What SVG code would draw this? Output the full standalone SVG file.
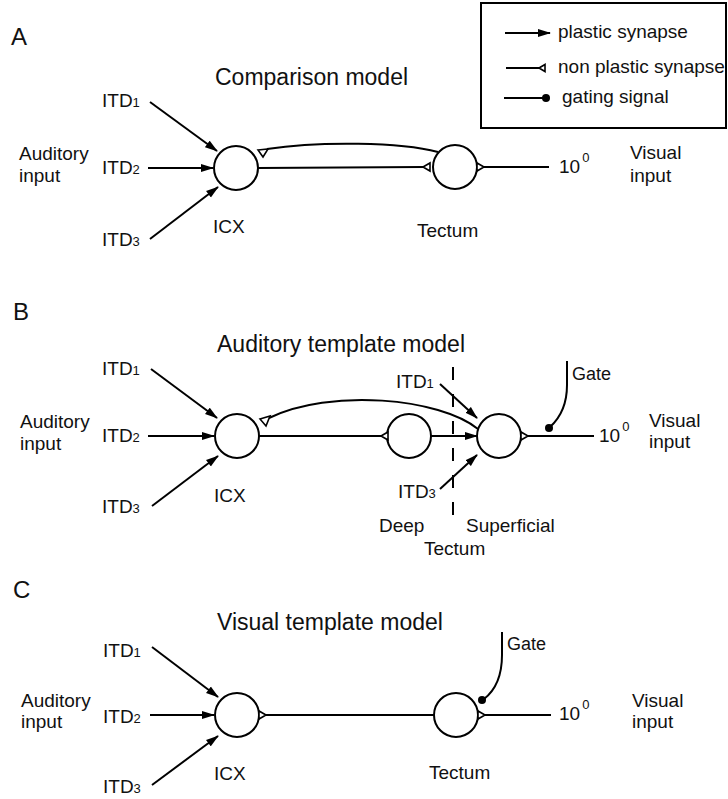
<svg xmlns="http://www.w3.org/2000/svg" width="728" height="799" viewBox="0 0 728 799">
<style>
text{font-family:"Liberation Sans",Arial,sans-serif;fill:#111;font-size:19px}
.t{font-size:23px}
.p{font-size:24px}
.s{font-size:13px}
.g{font-size:18px}
.n{fill:#fff;stroke:#000;stroke-width:2}
.l{fill:none;stroke:#000;stroke-width:2}
.a{fill:none;stroke:#000;stroke-width:2;marker-end:url(#ah)}
.tri{fill:#fff;stroke:#000;stroke-width:1.6;stroke-linejoin:miter}
</style>
<defs>
<marker id="ah" markerUnits="userSpaceOnUse" markerWidth="13" markerHeight="9" refX="12" refY="4.5" orient="auto" viewBox="0 0 13 9">
<path d="M0,0.5 L13,4.5 L0,8.5 z" fill="#000"/>
</marker>
</defs>
<rect fill="#fff" width="728" height="799"/>

<!-- Legend -->
<g id="legend">
<rect x="481" y="3" width="245" height="125" fill="none" stroke="#000" stroke-width="2"/>
<line x1="505" y1="33" x2="550" y2="33" class="a"/>
<text x="558" y="38">plastic synapse</text>
<line x1="506" y1="68" x2="539" y2="68" class="l"/>
<polygon class="tri" points="539,68 545,64.5 545,71.5"/>
<text x="558" y="73">non plastic synapse</text>
<line x1="504" y1="98" x2="545" y2="98" class="l"/>
<circle cx="546" cy="98" r="4" fill="#000"/>
<text x="562" y="103">gating signal</text>
</g>

<!-- Panel A -->
<g id="A-labels">
<text class="p" x="11" y="45">A</text>
<text class="t" x="215" y="85">Comparison model</text>
<text x="19" y="160">Auditory</text>
<text x="19" y="182">input</text>
<text x="102" y="107">ITD<tspan class="s">1</tspan></text>
<text x="102" y="174">ITD<tspan class="s">2</tspan></text>
<text x="102" y="246">ITD<tspan class="s">3</tspan></text>
<text x="630" y="159">Visual</text>
<text x="630" y="182">input</text>
<text x="559" y="173">10<tspan class="s" dx="2" dy="-11">0</tspan></text>
</g>
<g id="A-ICX">
<circle class="n" cx="236" cy="168" r="22"/>
<text x="213" y="233">ICX</text>
</g>
<g id="A-Tectum">
<circle class="n" cx="455" cy="167" r="22"/>
<text x="417" y="237">Tectum</text>
</g>
<g id="A-connectors">
<line class="a" x1="150" y1="102" x2="217" y2="151"/>
<line class="a" x1="148" y1="168" x2="213" y2="168"/>
<line class="a" x1="150" y1="239" x2="218" y2="187"/>
<line class="l" x1="258" y1="168" x2="423" y2="167"/>
<polygon class="tri" points="423,167 430,163 430,171"/>
<path class="l" d="M438,152 C400,142 320,141 267,149"/>
<polygon class="tri" points="258,150 268,149 263,157"/>
<polygon class="tri" points="484,167 477,163 477,171"/>
<line class="l" x1="484" y1="167" x2="549" y2="167"/>
</g>

<!-- Panel B -->
<g id="B-labels">
<text class="p" x="13" y="320">B</text>
<text class="t" x="217" y="352">Auditory template model</text>
<text x="20" y="428">Auditory</text>
<text x="20" y="450">input</text>
<text x="102" y="375">ITD<tspan class="s">1</tspan></text>
<text x="102" y="442">ITD<tspan class="s">2</tspan></text>
<text x="102" y="513">ITD<tspan class="s">3</tspan></text>
<text x="396" y="388">ITD<tspan class="s">1</tspan></text>
<text x="398" y="498">ITD<tspan class="s">3</tspan></text>
<text class="g" x="572" y="380">Gate</text>
<text x="649" y="427">Visual</text>
<text x="649" y="448">input</text>
<text x="599" y="442">10<tspan class="s" dx="2" dy="-11">0</tspan></text>
<text x="379" y="532">Deep</text>
<text x="466" y="532">Superficial</text>
<text x="424" y="555">Tectum</text>
</g>
<g id="B-ICX">
<circle class="n" cx="237" cy="436" r="22"/>
<text x="214" y="502">ICX</text>
</g>
<g id="B-Deep">
<circle class="n" cx="409" cy="436" r="22"/>
</g>
<g id="B-Superficial">
<circle class="n" cx="499" cy="436" r="22"/>
</g>
<g id="B-connectors">
<line x1="453" y1="367" x2="453" y2="521" stroke="#000" stroke-width="2" stroke-dasharray="13 14"/>
<line class="a" x1="151" y1="369" x2="217" y2="418"/>
<line class="a" x1="148" y1="436" x2="214" y2="436"/>
<line class="a" x1="152" y1="506" x2="218" y2="456"/>
<line class="l" x1="259" y1="436" x2="381" y2="436"/>
<polygon class="tri" points="381,436 388,432 388,440"/>
<line class="a" x1="431" y1="436" x2="477" y2="436"/>
<path class="l" d="M478,429 C440,398 330,388 269,418"/>
<polygon class="tri" points="260,419 270,416 266,426"/>
<line class="a" x1="440" y1="384" x2="477" y2="418"/>
<line class="a" x1="440" y1="489" x2="477" y2="455"/>
<polygon class="tri" points="528,436 521,432 521,440"/>
<line class="l" x1="528" y1="436" x2="594" y2="436"/>
<path class="l" d="M567,361 L567,385 C567,405 560,418 550,427"/>
<circle cx="549" cy="428" r="4" fill="#000"/>
</g>

<!-- Panel C -->
<g id="C-labels">
<text class="p" x="13" y="598">C</text>
<text class="t" x="217" y="630">Visual template model</text>
<text x="21" y="707">Auditory</text>
<text x="21" y="728">input</text>
<text x="103" y="657">ITD<tspan class="s">1</tspan></text>
<text x="103" y="723">ITD<tspan class="s">2</tspan></text>
<text x="103" y="793">ITD<tspan class="s">3</tspan></text>
<text class="g" x="507" y="650">Gate</text>
<text x="632" y="707">Visual</text>
<text x="632" y="728">input</text>
<text x="559" y="720">10<tspan class="s" dx="2" dy="-11">0</tspan></text>
</g>
<g id="C-ICX">
<circle class="n" cx="237" cy="715" r="22"/>
<text x="214" y="780">ICX</text>
</g>
<g id="C-Tectum">
<circle class="n" cx="456" cy="715" r="22"/>
<text x="429" y="779">Tectum</text>
</g>
<g id="C-connectors">
<line class="a" x1="152" y1="647" x2="218" y2="697"/>
<line class="a" x1="150" y1="715" x2="214" y2="715"/>
<line class="a" x1="152" y1="785" x2="218" y2="736"/>
<polygon class="tri" points="266,715 259,711 259,719"/>
<line class="l" x1="266" y1="715" x2="434" y2="715"/>
<polygon class="tri" points="485,715 478,711 478,719"/>
<line class="l" x1="485" y1="715" x2="551" y2="715"/>
<path class="l" d="M502,632 L502,655 C502,680 493,692 484,699"/>
<circle cx="482" cy="700" r="4" fill="#000"/>
</g>
</svg>
